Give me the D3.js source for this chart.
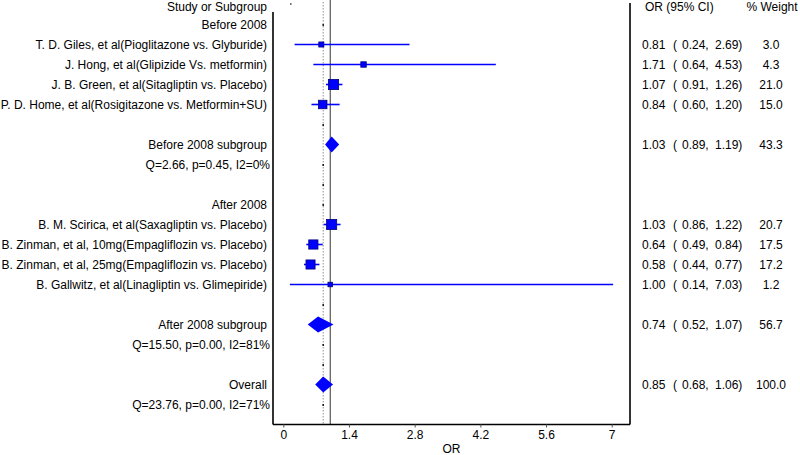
<!DOCTYPE html>
<html><head><meta charset="utf-8">
<script src="https://cdn.jsdelivr.net/npm/d3@7"></script>
<style>
html,body{margin:0;padding:0;background:#fff;}
svg text{font-family:"Liberation Sans",Arial,sans-serif;font-size:12px;fill:#000;}
</style></head>
<body><svg id="c" width="800" height="455"></svg>
<script>
// ---------- data ----------
const headerLeft = "Study or Subgroup";
const headerOR = "OR (95% CI)";
const headerW = "% Weight";
const groupTitles = ["Before 2008", "After 2008"];
const groupRows = [1, 10];

const studyNames = [
  "T. D. Giles, et al(Pioglitazone vs. Glyburide)",
  "J. Hong, et al(Glipizide Vs. metformin)",
  "J. B. Green, et al(Sitagliptin vs. Placebo)",
  "P. D. Home, et al(Rosigitazone vs. Metformin+SU)",
  "B. M. Scirica, et al(Saxagliptin vs. Placebo)",
  "B. Zinman, et al, 10mg(Empagliflozin vs. Placebo)",
  "B. Zinman, et al, 25mg(Empagliflozin vs. Placebo)",
  "B. Gallwitz, et al(Linagliptin vs. Glimepiride)"
];
const studyRows = [2, 3, 4, 5, 11, 12, 13, 14];
const studyOR = [0.81, 1.71, 1.07, 0.84, 1.03, 0.64, 0.58, 1.00];
const studyLo = [0.24, 0.64, 0.91, 0.60, 0.86, 0.49, 0.44, 0.14];
const studyHi = [2.69, 4.53, 1.26, 1.20, 1.22, 0.84, 0.77, 7.03];
const studyW  = [3.0, 4.3, 21.0, 15.0, 20.7, 17.5, 17.2, 1.2];

const poolNames = ["Before 2008 subgroup", "After 2008 subgroup", "Overall"];
const poolRows = [7, 16, 19];
const poolOR = [1.03, 0.74, 0.85];
const poolLo = [0.89, 0.52, 0.68];
const poolHi = [1.19, 1.07, 1.06];
const poolW  = [43.3, 56.7, 100.0];
const hetText = ["Q=2.66, p=0.45, I2=0%", "Q=15.50, p=0.00, I2=81%", "Q=23.76, p=0.00, I2=71%"];
const hetRows = [8, 17, 20];

const emptyRows = [1, 6, 8, 9, 10, 15, 17, 18, 20];
const tickValues = [0, 1.4, 2.8, 4.2, 5.6, 7];
const overallOR = 0.85;
const nullOR = 1;
const row0Marker = 0.16;

// ---------- layout ----------
const svg = d3.select("#c");
const x = d3.scaleLinear().domain([-0.22, 7.39]).range([273, 630]);
const y = d3.scaleLinear().domain([0, 20]).range([5, 405]);
const headerY = 6.8;
const axisY = 424.5;
const sq = d3.scaleLinear().domain([0, 21]).range([4.2, 10.2]);
const blue = "#0000ff";
const f2 = d3.format(".2f"), f1 = d3.format(".1f");

// reference lines
svg.append("line").attr("x1", x(overallOR)).attr("x2", x(overallOR))
  .attr("y1", 2).attr("y2", axisY).attr("stroke", "#777").attr("stroke-width", 0.8)
  .attr("stroke-dasharray", "1.5,1.5");
svg.append("line").attr("x1", x(nullOR)).attr("x2", x(nullOR))
  .attr("y1", 0).attr("y2", axisY).attr("stroke", "#333").attr("stroke-width", 1);

// box sides
svg.append("line").attr("x1", 273).attr("x2", 273).attr("y1", 12).attr("y2", axisY)
  .attr("stroke", "#000").attr("stroke-width", 1.6);
svg.append("line").attr("x1", 630).attr("x2", 630).attr("y1", 3).attr("y2", axisY)
  .attr("stroke", "#000").attr("stroke-width", 1.6);

// axis
const ax = svg.append("g").attr("transform", `translate(0,${axisY})`)
  .call(d3.axisBottom(x).tickValues(tickValues).tickFormat(d => String(d)).tickSize(3).tickPadding(3));
ax.select(".domain").attr("stroke", "#000").attr("stroke-width", 1.6).attr("d", "M273,0H630");
ax.selectAll(".tick line").attr("stroke", "#555");
ax.selectAll(".tick text").attr("font-family", '"Liberation Sans",Arial,sans-serif')
  .attr("font-size", 12).attr("fill", "#000");
svg.append("text").attr("x", (x(0) + x(7)) / 2 + 4).attr("y", 448.5).attr("text-anchor", "middle")
  .attr("dy", "0.35em").text("OR");

// empty-row markers
svg.selectAll("circle.e").data(emptyRows).enter().append("circle")
  .attr("cx", x(overallOR)).attr("cy", d => y(d)).attr("r", 0.9).attr("fill", "#000");
svg.append("circle").attr("cx", x(row0Marker)).attr("cy", y(0) - 1).attr("r", 0.8).attr("fill", "#000");

// headers
const txt = (xx, yy, t, anchor) => svg.append("text").attr("x", xx).attr("y", yy)
  .attr("text-anchor", anchor).attr("dy", "0.35em").text(t);
txt(267, headerY, headerLeft, "end");
txt(645, headerY, headerOR, "start");
txt(772, headerY, headerW, "middle");
groupTitles.forEach((g, i) => txt(267, y(groupRows[i]), g, "end"));

// row values
function rowValues(row, or, lo, hi, w) {
  txt(642, y(row), f2(or), "start");
  txt(673, y(row), "(", "start");
  txt(682, y(row), f2(lo) + ",", "start");
  txt(715, y(row), f2(hi) + ")", "start");
  txt(771, y(row), f1(w), "middle");
}

// studies
studyNames.forEach((n, i) => {
  const r = studyRows[i];
  txt(267, y(r), n, "end");
  svg.append("line").attr("x1", x(studyLo[i])).attr("x2", x(studyHi[i]))
    .attr("y1", y(r) - 0.5).attr("y2", y(r) - 0.5).attr("stroke", blue).attr("stroke-width", 1.6);
  const s = sq(studyW[i]);
  svg.append("rect").attr("x", x(studyOR[i]) - s / 2).attr("y", y(r) - 0.5 - s / 2)
    .attr("width", s).attr("height", s).attr("fill", blue).attr("stroke", "#000080").attr("stroke-width", 0.8);
  rowValues(r, studyOR[i], studyLo[i], studyHi[i], studyW[i]);
});

// pooled
poolNames.forEach((n, i) => {
  const r = poolRows[i];
  txt(267, y(r), n, "end");
  const cy = y(r) - 0.5, h = 8;
  svg.append("path").attr("d",
    `M${x(poolLo[i])},${cy}L${x(poolOR[i])},${cy - h}L${x(poolHi[i])},${cy}L${x(poolOR[i])},${cy + h}Z`)
    .attr("fill", blue);
  rowValues(r, poolOR[i], poolLo[i], poolHi[i], poolW[i]);
  txt(270, y(hetRows[i]), hetText[i], "end");
});
</script></body></html>
